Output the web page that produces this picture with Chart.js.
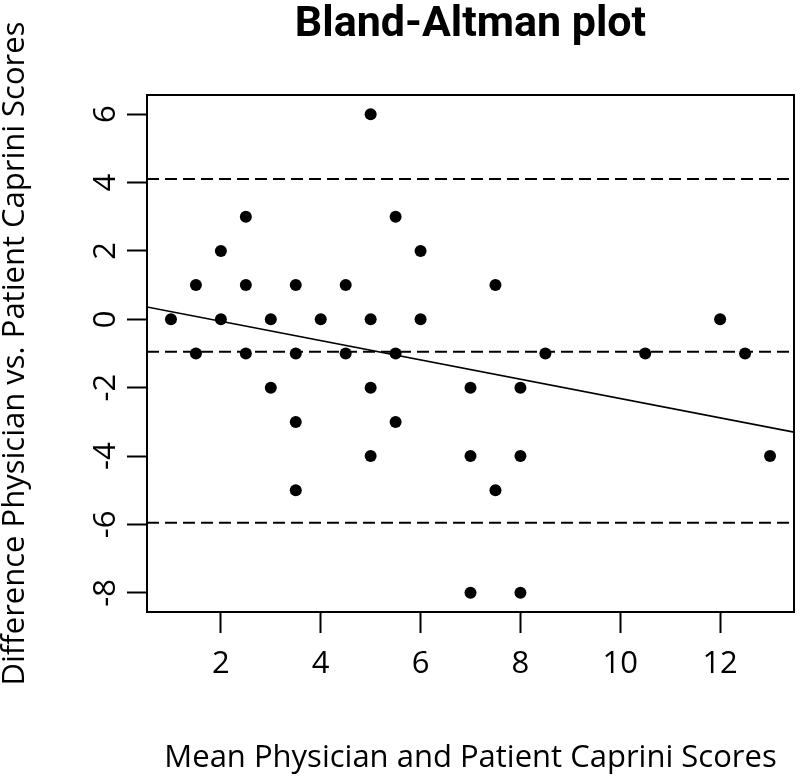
<!DOCTYPE html>
<html>
<head>
<meta charset="utf-8">
<script src="https://cdn.jsdelivr.net/npm/chart.js@4.4.1/dist/chart.umd.min.js"></script>
<style>
  html, body { margin: 0; padding: 0; background: #ffffff; }
  #wrap { width: 800px; height: 778px; }
</style>
</head>
<body>
<div id="wrap"><canvas id="c" width="800" height="778"></canvas></div>
<script>
// ---- data ----
const titleText = "Bland-Altman plot";
const xTitle = "Mean Physician and Patient Caprini Scores";
const yTitle = "Difference Physician vs. Patient Caprini Scores";

const xTicks = [2, 4, 6, 8, 10, 12];
const yTicks = [-8, -6, -4, -2, 0, 2, 4, 6];
const xRange = [0.52, 13.48];
const yRange = [-8.56, 6.56];

const meanScores = [1, 1.5, 1.5, 2, 2, 2.5, 2.5, 2.5, 3, 3, 3.5, 3.5, 3.5, 3.5, 4, 4.5, 4.5,
  5, 5, 5, 5, 5.5, 5.5, 5.5, 6, 6, 7, 7, 7, 7.5, 7.5, 8, 8, 8, 8.5, 10.5, 12, 12.5, 13];
const diffScores = [0, 1, -1, 2, 0, 3, 1, -1, 0, -2, 1, -1, -3, -5, 0, 1, -1,
  6, 0, -2, -4, 3, -1, -3, 2, 0, -2, -4, -8, 1, -5, -2, -4, -8, -1, -1, 0, -1, -4];

const upperLimit = 4.1;
const meanDiff = -0.95;
const lowerLimit = -5.95;

const regLineX = [0.52, 13.48];
const regLineY = [0.36, -3.30];

// ---- build datasets ----
const pts = meanScores.map((x, i) => ({ x: x, y: diffScores[i] }));
const hLine = (v) => xRange.map(x => ({ x: x, y: v }));
const regPts = regLineX.map((x, i) => ({ x: x, y: regLineY[i] }));

const FONT = "'Open Sans', 'Noto Sans', sans-serif";

const framePlugin = {
  id: 'frame',
  afterDatasetsDraw(chart) {
    const { ctx, chartArea: a } = chart;
    ctx.save();
    ctx.strokeStyle = '#000';
    ctx.lineWidth = 2;
    ctx.strokeRect(a.left, a.top, a.right - a.left, a.bottom - a.top);
    ctx.restore();
  }
};

const dashStyle = { borderColor: '#000', borderWidth: 2, borderDash: [12, 6], pointRadius: 0, showLine: true, fill: false };

new Chart(document.getElementById('c'), {
  type: 'scatter',
  data: {
    datasets: [
      Object.assign({ data: hLine(upperLimit) }, dashStyle),
      Object.assign({ data: hLine(meanDiff) }, dashStyle),
      Object.assign({ data: hLine(lowerLimit) }, dashStyle),
      { data: regPts, borderColor: '#000', borderWidth: 1.6, pointRadius: 0, showLine: true, fill: false },
      { data: pts, backgroundColor: '#000', borderColor: '#000', pointRadius: 6, borderWidth: 0, showLine: false }
    ]
  },
  options: {
    responsive: false,
    animation: false,
    devicePixelRatio: 1,
    layout: { padding: { left: 0, right: 3, top: 0, bottom: 0 } },
    plugins: {
      legend: { display: false },
      tooltip: { enabled: false },
      title: {
        display: true,
        fullSize: false,
        text: titleText,
        color: '#000',
        font: { family: "'Roboto', sans-serif", size: 43, weight: 'bold', lineHeight: 1 },
        padding: { top: 4, bottom: 48 }
      }
    },
    scales: {
      x: {
        type: 'linear',
        min: xRange[0], max: xRange[1],
        afterBuildTicks: (s) => { s.ticks = xTicks.map(v => ({ value: v })); },
        afterFit: (s) => { s.height = 166; },
        grid: { drawOnChartArea: false, drawTicks: true, tickLength: 21, tickColor: '#000', tickWidth: 2 },
        border: { display: true, color: '#000', width: 2 },
        ticks: { color: '#000', font: { family: FONT, size: 31 }, padding: 13, maxRotation: 0 },
        title: { display: true, text: xTitle, color: '#000', font: { family: FONT, size: 31, lineHeight: 1 }, padding: { top: 0, bottom: 4 } }
      },
      y: {
        type: 'linear',
        min: yRange[0], max: yRange[1],
        afterBuildTicks: (s) => { s.ticks = yTicks.map(v => ({ value: v })); },
        afterFit: (s) => { s.width = 147; },
        grid: { drawOnChartArea: false, drawTicks: true, tickLength: 20, tickColor: '#000', tickWidth: 2 },
        border: { display: true, color: '#000', width: 2 },
        ticks: { color: '#000', font: { family: FONT, size: 31 }, padding: 7, minRotation: 90, maxRotation: 90, crossAlign: 'center' },
        title: { display: true, text: yTitle, color: '#000', font: { family: FONT, size: 31, lineHeight: 1 }, padding: { top: 0, bottom: 0 } }
      }
    }
  },
  plugins: [framePlugin]
});
</script>
</body>
</html>
